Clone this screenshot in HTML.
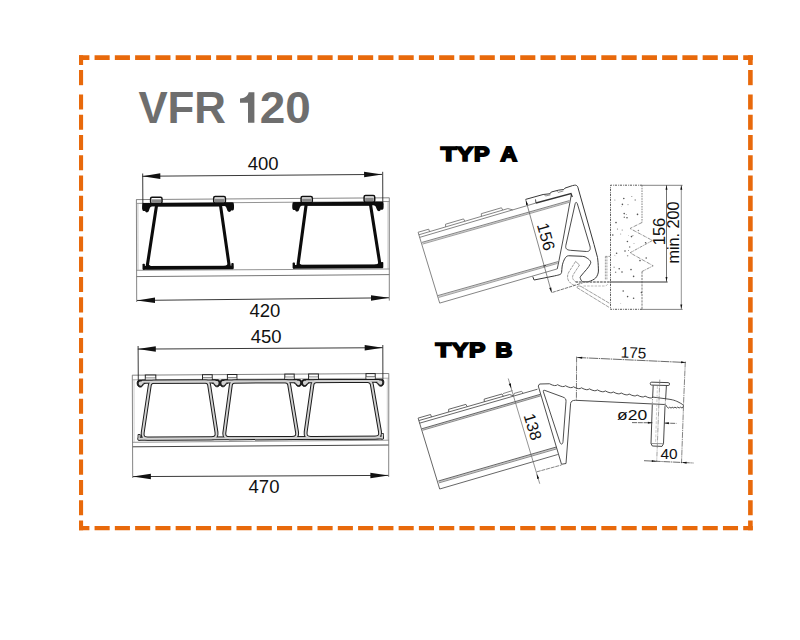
<!DOCTYPE html>
<html><head><meta charset="utf-8"><title>VFR 120</title>
<style>html,body{margin:0;padding:0;background:#fff;}svg{display:block;}</style>
</head><body>
<svg width="800" height="640" viewBox="0 0 800 640">
<rect x="0" y="0" width="800" height="640" fill="#ffffff"/>
<line x1="79" y1="57.6" x2="752.8" y2="57.6" stroke="#e8690b" stroke-width="4.7" stroke-dasharray="15.1 5.17" stroke-dashoffset="4.7"/>
<line x1="79" y1="528.2" x2="752.8" y2="528.2" stroke="#e8690b" stroke-width="4.2" stroke-dasharray="15.1 5.17" stroke-dashoffset="4.7"/>
<line x1="81.05" y1="94.4" x2="81.05" y2="530.3" stroke="#e8690b" stroke-width="4.1" stroke-dasharray="15.1 5.19"/>
<line x1="81.05" y1="55.25" x2="81.05" y2="65.0" stroke="#e8690b" stroke-width="4.1"/>
<line x1="81.05" y1="70.0" x2="81.05" y2="85.2" stroke="#e8690b" stroke-width="4.1"/>
<line x1="750.4" y1="94.4" x2="750.4" y2="530.3" stroke="#e8690b" stroke-width="4.6" stroke-dasharray="15.1 5.19"/>
<line x1="750.4" y1="55.25" x2="750.4" y2="65.0" stroke="#e8690b" stroke-width="4.6"/>
<line x1="750.4" y1="70.0" x2="750.4" y2="85.2" stroke="#e8690b" stroke-width="4.6"/>
<text x="138.40" y="122.70" font-size="43.8" font-family="Liberation Sans, sans-serif" font-weight="bold" text-anchor="start" fill="#6e6e6e" >VFR</text>
<path d="M248.0,92.3 L254.4,92.3 L254.4,122.7 L248.0,122.7 L248.0,102.7 L240.0,102.7 L240.0,98.5 C244.6,98.3 247.6,96.4 248.7,92.3 Z" stroke="none" stroke-width="0" fill="#6e6e6e" />
<text x="259.70" y="122.70" font-size="43.8" font-family="Liberation Sans, sans-serif" font-weight="bold" text-anchor="start" fill="#6e6e6e" textLength="51.0" lengthAdjust="spacingAndGlyphs" >20</text>
<line x1="136.20" y1="199.60" x2="389.40" y2="197.80" stroke="#777" stroke-width="0.9" />
<line x1="136.90" y1="203.40" x2="389.40" y2="201.50" stroke="#888" stroke-width="0.9" />
<line x1="136.50" y1="270.30" x2="389.40" y2="269.00" stroke="#888" stroke-width="0.9" />
<line x1="136.50" y1="276.60" x2="389.40" y2="274.60" stroke="#666" stroke-width="0.9" />
<line x1="136.40" y1="199.60" x2="136.70" y2="302.00" stroke="#777" stroke-width="0.9" />
<line x1="389.30" y1="197.80" x2="389.30" y2="300.60" stroke="#777" stroke-width="0.9" />
<line x1="137.90" y1="203.40" x2="138.00" y2="270.30" stroke="#aaa" stroke-width="0.7" />
<line x1="388.00" y1="201.50" x2="388.00" y2="269.00" stroke="#aaa" stroke-width="0.7" />
<line x1="142.30" y1="176.25" x2="382.10" y2="174.40" stroke="#222" stroke-width="0.9" />
<polygon points="142.30,176.25 160.32,178.91 160.28,173.31" fill="#111"/>
<polygon points="382.10,174.40 364.08,171.74 364.12,177.34" fill="#111"/>
<line x1="142.70" y1="173.50" x2="142.90" y2="209.00" stroke="#222" stroke-width="0.9" />
<line x1="382.70" y1="171.80" x2="382.80" y2="205.00" stroke="#222" stroke-width="0.9" />
<text x="263.10" y="169.50" font-size="18.5" font-family="Liberation Sans, sans-serif" font-weight="normal" text-anchor="middle" fill="#111" >400</text>
<line x1="137.00" y1="300.45" x2="389.00" y2="297.80" stroke="#222" stroke-width="0.9" />
<polygon points="137.00,300.45 155.03,303.06 154.97,297.46" fill="#111"/>
<polygon points="389.00,297.80 370.97,295.19 371.03,300.79" fill="#111"/>
<text x="264.90" y="316.90" font-size="18.5" font-family="Liberation Sans, sans-serif" font-weight="normal" text-anchor="middle" fill="#111" >420</text>
<rect x="150.60" y="197.30" width="11.40" height="6.20" rx="1.4" fill="#fff" stroke="#111" stroke-width="1.5"/>
<rect x="151.60" y="199.30" width="9.40" height="3.60" fill="#8a8a8a"/>
<rect x="213.70" y="196.60" width="11.70" height="6.40" rx="1.4" fill="#fff" stroke="#111" stroke-width="1.5"/>
<rect x="214.70" y="198.60" width="9.70" height="3.80" fill="#8a8a8a"/>
<line x1="143.50" y1="204.80" x2="232.70" y2="204.30" stroke="#0c0c0c" stroke-width="3.5" />
<line x1="143.00" y1="267.90" x2="233.20" y2="267.50" stroke="#0c0c0c" stroke-width="3.7" />
<rect x="142.50" y="263.70" width="2.4" height="6" rx="0.8" fill="#0c0c0c"/>
<rect x="231.30" y="263.10" width="2.4" height="6" rx="0.8" fill="#0c0c0c"/>
<path d="M142.70,203.10 L151.50,203.00 L151.50,206.60 C149.90,207.00 149.70,209.00 148.90,210.80 C148.10,212.80 145.50,213.00 145.10,210.80 C144.10,211.20 142.50,211.00 142.30,209.40 C142.00,207.80 142.10,204.80 142.70,203.10 Z" stroke="none" stroke-width="0" fill="#0c0c0c" />
<path d="M233.50,202.60 L224.70,202.50 L224.70,206.10 C226.30,206.50 226.50,208.50 227.30,210.30 C228.10,212.30 230.70,212.50 231.10,210.30 C232.10,210.70 233.70,210.50 233.90,208.90 C234.20,207.30 234.10,204.30 233.50,202.60 Z" stroke="none" stroke-width="0" fill="#0c0c0c" />
<path d="M156.60,205.00 L147.00,267.60 L229.40,267.20 L220.40,204.60 Z" stroke="#0c0c0c" stroke-width="3.1" fill="none" stroke-linejoin="round"/>
<path d="M147.60,261.60 Q148.20,266.20 153.00,266.40 L147.00,267.60 Z" stroke="none" stroke-width="0" fill="#0c0c0c" />
<path d="M228.80,261.20 Q228.20,265.80 223.40,266.00 L229.40,267.20 Z" stroke="none" stroke-width="0" fill="#0c0c0c" />
<rect x="301.10" y="196.50" width="11.20" height="6.10" rx="1.4" fill="#fff" stroke="#111" stroke-width="1.5"/>
<rect x="302.10" y="198.50" width="9.20" height="3.50" fill="#8a8a8a"/>
<rect x="364.10" y="195.60" width="10.60" height="6.30" rx="1.4" fill="#fff" stroke="#111" stroke-width="1.5"/>
<rect x="365.10" y="197.60" width="8.60" height="3.70" fill="#8a8a8a"/>
<line x1="293.60" y1="203.90" x2="382.30" y2="203.60" stroke="#0c0c0c" stroke-width="3.5" />
<line x1="293.10" y1="266.80" x2="382.80" y2="266.40" stroke="#0c0c0c" stroke-width="3.7" />
<rect x="292.60" y="262.60" width="2.4" height="6" rx="0.8" fill="#0c0c0c"/>
<rect x="380.90" y="262.00" width="2.4" height="6" rx="0.8" fill="#0c0c0c"/>
<path d="M292.80,202.20 L301.60,202.10 L301.60,205.70 C300.00,206.10 299.80,208.10 299.00,209.90 C298.20,211.90 295.60,212.10 295.20,209.90 C294.20,210.30 292.60,210.10 292.40,208.50 C292.10,206.90 292.20,203.90 292.80,202.20 Z" stroke="none" stroke-width="0" fill="#0c0c0c" />
<path d="M383.10,201.90 L374.30,201.80 L374.30,205.40 C375.90,205.80 376.10,207.80 376.90,209.60 C377.70,211.60 380.30,211.80 380.70,209.60 C381.70,210.00 383.30,209.80 383.50,208.20 C383.80,206.60 383.70,203.60 383.10,201.90 Z" stroke="none" stroke-width="0" fill="#0c0c0c" />
<path d="M306.20,204.20 L297.80,266.40 L380.20,266.00 L370.40,204.00 Z" stroke="#0c0c0c" stroke-width="3.1" fill="none" stroke-linejoin="round"/>
<path d="M298.40,260.40 Q299.00,265.00 303.80,265.20 L297.80,266.40 Z" stroke="none" stroke-width="0" fill="#0c0c0c" />
<path d="M379.60,260.00 Q379.00,264.60 374.20,264.80 L380.20,266.00 Z" stroke="none" stroke-width="0" fill="#0c0c0c" />
<line x1="132.20" y1="375.20" x2="388.80" y2="373.50" stroke="#777" stroke-width="0.9" />
<line x1="132.60" y1="379.80" x2="388.80" y2="378.20" stroke="#999" stroke-width="0.8" />
<line x1="132.40" y1="442.30" x2="388.80" y2="440.20" stroke="#888" stroke-width="0.9" />
<line x1="132.40" y1="446.80" x2="388.80" y2="445.00" stroke="#444" stroke-width="1.0" />
<line x1="132.30" y1="375.20" x2="132.70" y2="478.00" stroke="#777" stroke-width="0.9" />
<line x1="388.80" y1="373.50" x2="388.70" y2="477.00" stroke="#777" stroke-width="0.9" />
<line x1="134.00" y1="379.80" x2="134.10" y2="442.30" stroke="#bbb" stroke-width="0.7" />
<line x1="387.30" y1="378.20" x2="387.30" y2="440.20" stroke="#bbb" stroke-width="0.7" />
<line x1="137.80" y1="349.10" x2="382.70" y2="347.70" stroke="#222" stroke-width="0.9" />
<polygon points="137.80,349.10 155.82,351.80 155.78,346.20" fill="#111"/>
<polygon points="382.70,347.70 364.68,345.00 364.72,350.60" fill="#111"/>
<line x1="138.10" y1="346.00" x2="138.30" y2="384.00" stroke="#222" stroke-width="0.9" />
<line x1="382.80" y1="345.00" x2="382.90" y2="382.00" stroke="#222" stroke-width="0.9" />
<text x="266.10" y="342.80" font-size="18.5" font-family="Liberation Sans, sans-serif" font-weight="normal" text-anchor="middle" fill="#111" >450</text>
<line x1="132.90" y1="476.60" x2="388.40" y2="475.40" stroke="#222" stroke-width="0.9" />
<polygon points="132.90,476.60 150.91,479.32 150.89,473.72" fill="#111"/>
<polygon points="388.40,475.40 370.39,472.68 370.41,478.28" fill="#111"/>
<text x="264.00" y="493.30" font-size="18.5" font-family="Liberation Sans, sans-serif" font-weight="normal" text-anchor="middle" fill="#111" >470</text>
<rect x="145.30" y="375.00" width="10.50" height="5.40" fill="#fff" stroke="#222" stroke-width="1.0"/>
<line x1="145.30" y1="378.00" x2="155.80" y2="378.00" stroke="#444" stroke-width="0.8" />
<rect x="145.80" y="378.20" width="9.50" height="2.20" fill="#ddd"/>
<rect x="202.50" y="374.70" width="9.70" height="5.30" fill="#fff" stroke="#222" stroke-width="1.0"/>
<line x1="202.50" y1="377.70" x2="212.20" y2="377.70" stroke="#444" stroke-width="0.8" />
<rect x="203.00" y="377.90" width="8.70" height="2.10" fill="#ddd"/>
<rect x="227.40" y="374.50" width="9.50" height="5.40" fill="#fff" stroke="#222" stroke-width="1.0"/>
<line x1="227.40" y1="377.50" x2="236.90" y2="377.50" stroke="#444" stroke-width="0.8" />
<rect x="227.90" y="377.70" width="8.50" height="2.20" fill="#ddd"/>
<rect x="284.80" y="374.10" width="9.40" height="5.40" fill="#fff" stroke="#222" stroke-width="1.0"/>
<line x1="284.80" y1="377.10" x2="294.20" y2="377.10" stroke="#444" stroke-width="0.8" />
<rect x="285.30" y="377.30" width="8.40" height="2.20" fill="#ddd"/>
<rect x="308.60" y="374.00" width="9.80" height="5.30" fill="#fff" stroke="#222" stroke-width="1.0"/>
<line x1="308.60" y1="377.00" x2="318.40" y2="377.00" stroke="#444" stroke-width="0.8" />
<rect x="309.10" y="377.20" width="8.80" height="2.10" fill="#ddd"/>
<rect x="366.00" y="373.60" width="9.20" height="5.40" fill="#fff" stroke="#222" stroke-width="1.0"/>
<line x1="366.00" y1="376.60" x2="375.20" y2="376.60" stroke="#444" stroke-width="0.8" />
<rect x="366.50" y="376.80" width="8.20" height="2.20" fill="#ddd"/>
<path d="M142.50,381.79 L215.00,381.51" stroke="#1c1c1c" stroke-width="3.9" fill="none" stroke-linejoin="round" stroke-linecap="round"/>
<path d="M153.80,381.74 Q150.30,381.76 149.78,385.22 L142.69,432.75 Q141.80,438.68 147.80,438.66 L211.40,438.37 Q217.40,438.34 216.48,432.41 L209.14,385.00 Q208.60,381.54 205.10,381.55 Z" stroke="#1c1c1c" stroke-width="3.9" fill="none" stroke-linejoin="round"/>
<path d="M225.00,381.49 L296.50,381.21" stroke="#1c1c1c" stroke-width="3.9" fill="none" stroke-linejoin="round" stroke-linecap="round"/>
<path d="M234.80,381.44 Q231.30,381.46 230.83,384.93 L224.41,432.37 Q223.60,438.32 229.60,438.29 L292.00,438.01 Q298.00,437.98 297.02,432.06 L289.17,384.70 Q288.60,381.25 285.10,381.26 Z" stroke="#1c1c1c" stroke-width="3.9" fill="none" stroke-linejoin="round"/>
<path d="M306.70,381.19 L378.50,380.91" stroke="#1c1c1c" stroke-width="3.9" fill="none" stroke-linejoin="round" stroke-linecap="round"/>
<path d="M316.40,381.14 Q312.90,381.16 312.41,384.62 L305.65,432.01 Q304.80,437.95 310.80,437.92 L375.00,437.64 Q381.00,437.61 379.98,431.70 L371.80,384.39 Q371.20,380.94 367.70,380.96 Z" stroke="#1c1c1c" stroke-width="3.9" fill="none" stroke-linejoin="round"/>
<path d="M139.40,438.69 L382.00,437.60" stroke="#1c1c1c" stroke-width="3.9" fill="none" stroke-linejoin="round" stroke-linecap="round"/>
<path d="M145.10,380.05 L139.20,380.10 C137.20,380.50 136.60,383.40 137.70,385.60 C138.80,387.60 141.80,387.60 142.80,385.40 C143.30,384.40 143.80,383.70 145.10,383.55 Z" stroke="#1c1c1c" stroke-width="1.0" fill="#1c1c1c" />
<path d="M212.20,379.75 L218.10,379.80 C220.10,380.20 220.70,383.10 219.60,385.30 C218.50,387.30 215.50,387.30 214.50,385.10 C214.00,384.10 213.50,383.40 212.20,383.25 Z" stroke="#1c1c1c" stroke-width="1.0" fill="#1c1c1c" />
<path d="M227.80,379.75 L221.90,379.80 C219.90,380.20 219.30,383.10 220.40,385.30 C221.50,387.30 224.50,387.30 225.50,385.10 C226.00,384.10 226.50,383.40 227.80,383.25 Z" stroke="#1c1c1c" stroke-width="1.0" fill="#1c1c1c" />
<path d="M293.80,379.45 L299.70,379.50 C301.70,379.90 302.30,382.80 301.20,385.00 C300.10,387.00 297.10,387.00 296.10,384.80 C295.60,383.80 295.10,383.10 293.80,382.95 Z" stroke="#1c1c1c" stroke-width="1.0" fill="#1c1c1c" />
<path d="M309.40,379.45 L303.50,379.50 C301.50,379.90 300.90,382.80 302.00,385.00 C303.10,387.00 306.10,387.00 307.10,384.80 C307.60,383.80 308.10,383.10 309.40,382.95 Z" stroke="#1c1c1c" stroke-width="1.0" fill="#1c1c1c" />
<path d="M375.90,379.15 L381.80,379.20 C383.80,379.60 384.40,382.50 383.30,384.70 C382.20,386.70 379.20,386.70 378.20,384.50 C377.70,383.50 377.20,382.80 375.90,382.65 Z" stroke="#1c1c1c" stroke-width="1.0" fill="#1c1c1c" />
<rect x="137.6" y="434.10" width="3" height="6.4" rx="0.8" fill="#1c1c1c"/>
<rect x="380.8" y="433.00" width="3" height="6.4" rx="0.8" fill="#1c1c1c"/>
<path d="M142.50,381.79 L215.00,381.51" stroke="#d2d2d2" stroke-width="1.9" fill="none" stroke-linejoin="round" stroke-linecap="round"/>
<path d="M153.80,381.74 Q150.30,381.76 149.78,385.22 L142.69,432.75 Q141.80,438.68 147.80,438.66 L211.40,438.37 Q217.40,438.34 216.48,432.41 L209.14,385.00 Q208.60,381.54 205.10,381.55 Z" stroke="#d2d2d2" stroke-width="1.9" fill="none" stroke-linejoin="round"/>
<path d="M225.00,381.49 L296.50,381.21" stroke="#d2d2d2" stroke-width="1.9" fill="none" stroke-linejoin="round" stroke-linecap="round"/>
<path d="M234.80,381.44 Q231.30,381.46 230.83,384.93 L224.41,432.37 Q223.60,438.32 229.60,438.29 L292.00,438.01 Q298.00,437.98 297.02,432.06 L289.17,384.70 Q288.60,381.25 285.10,381.26 Z" stroke="#d2d2d2" stroke-width="1.9" fill="none" stroke-linejoin="round"/>
<path d="M306.70,381.19 L378.50,380.91" stroke="#d2d2d2" stroke-width="1.9" fill="none" stroke-linejoin="round" stroke-linecap="round"/>
<path d="M316.40,381.14 Q312.90,381.16 312.41,384.62 L305.65,432.01 Q304.80,437.95 310.80,437.92 L375.00,437.64 Q381.00,437.61 379.98,431.70 L371.80,384.39 Q371.20,380.94 367.70,380.96 Z" stroke="#d2d2d2" stroke-width="1.9" fill="none" stroke-linejoin="round"/>
<path d="M139.40,438.69 L382.00,437.60" stroke="#d2d2d2" stroke-width="1.9" fill="none" stroke-linejoin="round" stroke-linecap="round"/>
<path d="M145.10,380.05 L139.20,380.10 C137.20,380.50 136.60,383.40 137.70,385.60 C138.80,387.60 141.80,387.60 142.80,385.40 C143.30,384.40 143.80,383.70 145.10,383.55 Z" fill="#d2d2d2" stroke="none" transform="translate(0 0)" style="transform-box:fill-box;transform-origin:center;transform:scale(0.62)"/>
<path d="M212.20,379.75 L218.10,379.80 C220.10,380.20 220.70,383.10 219.60,385.30 C218.50,387.30 215.50,387.30 214.50,385.10 C214.00,384.10 213.50,383.40 212.20,383.25 Z" fill="#d2d2d2" stroke="none" transform="translate(0 0)" style="transform-box:fill-box;transform-origin:center;transform:scale(0.62)"/>
<path d="M227.80,379.75 L221.90,379.80 C219.90,380.20 219.30,383.10 220.40,385.30 C221.50,387.30 224.50,387.30 225.50,385.10 C226.00,384.10 226.50,383.40 227.80,383.25 Z" fill="#d2d2d2" stroke="none" transform="translate(0 0)" style="transform-box:fill-box;transform-origin:center;transform:scale(0.62)"/>
<path d="M293.80,379.45 L299.70,379.50 C301.70,379.90 302.30,382.80 301.20,385.00 C300.10,387.00 297.10,387.00 296.10,384.80 C295.60,383.80 295.10,383.10 293.80,382.95 Z" fill="#d2d2d2" stroke="none" transform="translate(0 0)" style="transform-box:fill-box;transform-origin:center;transform:scale(0.62)"/>
<path d="M309.40,379.45 L303.50,379.50 C301.50,379.90 300.90,382.80 302.00,385.00 C303.10,387.00 306.10,387.00 307.10,384.80 C307.60,383.80 308.10,383.10 309.40,382.95 Z" fill="#d2d2d2" stroke="none" transform="translate(0 0)" style="transform-box:fill-box;transform-origin:center;transform:scale(0.62)"/>
<path d="M375.90,379.15 L381.80,379.20 C383.80,379.60 384.40,382.50 383.30,384.70 C382.20,386.70 379.20,386.70 378.20,384.50 C377.70,383.50 377.20,382.80 375.90,382.65 Z" fill="#d2d2d2" stroke="none" transform="translate(0 0)" style="transform-box:fill-box;transform-origin:center;transform:scale(0.62)"/>
<rect x="138.4" y="434.90" width="1.4" height="4.8" fill="#d2d2d2"/>
<rect x="381.6" y="433.80" width="1.4" height="4.8" fill="#d2d2d2"/>
<!--DRAW2-->
<text x="0" y="0" font-size="100" font-family="Liberation Sans, sans-serif" font-weight="bold" fill="#000" stroke="#000" stroke-width="8.08" stroke-linejoin="miter" stroke-miterlimit="3" transform="translate(440.76 160.85) scale(0.2598 0.2108)">T</text>
<text x="0" y="0" font-size="100" font-family="Liberation Sans, sans-serif" font-weight="bold" fill="#000" stroke="#000" stroke-width="8.29" stroke-linejoin="miter" stroke-miterlimit="3" transform="translate(456.73 160.85) scale(0.2477 0.2108)">Y</text>
<text x="0" y="0" font-size="100" font-family="Liberation Sans, sans-serif" font-weight="bold" fill="#000" stroke="#000" stroke-width="8.56" stroke-linejoin="miter" stroke-miterlimit="3" transform="translate(473.89 160.85) scale(0.2333 0.2108)">P</text>
<text x="0" y="0" font-size="100" font-family="Liberation Sans, sans-serif" font-weight="bold" fill="#000" stroke="#000" stroke-width="8.63" stroke-linejoin="miter" stroke-miterlimit="3" transform="translate(500.38 160.85) scale(0.2295 0.2108)">A</text>
<text x="0" y="0" font-size="100" font-family="Liberation Sans, sans-serif" font-weight="bold" fill="#000" stroke="#000" stroke-width="8.16" stroke-linejoin="miter" stroke-miterlimit="3" transform="translate(435.56 357.25) scale(0.2547 0.2108)">T</text>
<text x="0" y="0" font-size="100" font-family="Liberation Sans, sans-serif" font-weight="bold" fill="#000" stroke="#000" stroke-width="8.26" stroke-linejoin="miter" stroke-miterlimit="3" transform="translate(451.82 357.25) scale(0.2493 0.2108)">Y</text>
<text x="0" y="0" font-size="100" font-family="Liberation Sans, sans-serif" font-weight="bold" fill="#000" stroke="#000" stroke-width="8.33" stroke-linejoin="miter" stroke-miterlimit="3" transform="translate(469.01 357.25) scale(0.2456 0.2108)">P</text>
<text x="0" y="0" font-size="100" font-family="Liberation Sans, sans-serif" font-weight="bold" fill="#000" stroke="#000" stroke-width="8.57" stroke-linejoin="miter" stroke-miterlimit="3" transform="translate(495.59 357.25) scale(0.2328 0.2108)">B</text>
<path d="M418.10,232.25 L439.70,303.10 L557.25,268.90" stroke="#666" stroke-width="0.8" fill="none" />
<line x1="418.80" y1="234.80" x2="507.87" y2="208.58" stroke="#666" stroke-width="0.8" />
<line x1="507.87" y1="208.58" x2="512.72" y2="209.88" stroke="#666" stroke-width="0.8" />
<line x1="419.60" y1="237.40" x2="536.00" y2="203.00" stroke="#666" stroke-width="0.8" />
<line x1="422.20" y1="243.25" x2="569.20" y2="201.50" stroke="#d0d0d0" stroke-width="1.2" />
<line x1="421.90" y1="242.40" x2="569.40" y2="200.60" stroke="#666" stroke-width="0.8" />
<line x1="422.50" y1="244.10" x2="569.00" y2="202.40" stroke="#888" stroke-width="0.8" />
<line x1="438.10" y1="296.55" x2="557.80" y2="262.50" stroke="#d0d0d0" stroke-width="1.2" />
<line x1="437.80" y1="295.60" x2="558.00" y2="261.60" stroke="#666" stroke-width="0.8" />
<line x1="438.40" y1="297.50" x2="557.60" y2="263.40" stroke="#888" stroke-width="0.8" />
<path d="M418.10,232.25 L428.70,229.20 L429.60,231.70" stroke="#666" stroke-width="0.8" fill="none" />
<path d="M445.66,226.89 L445.50,224.23 L463.54,218.92 L464.85,221.25" stroke="#666" stroke-width="0.8" fill="none" />
<path d="M481.44,216.36 L481.28,213.70 L501.43,207.77 L502.74,210.09" stroke="#666" stroke-width="0.8" fill="none" />
<path d="M532.75,276.6 L534.1,280.0 L554.6,275.9 C559.5,274.8 561.2,274.6 561.6,272.4 C562.0,268 562.0,265.5 563,262.75 C564.5,258.5 566.0,255.9 568.6,255.75 L580,256.2 C583.5,256.3 585.0,256.6 586.1,257.5 C589.5,259.5 591.5,261.5 590.5,263.6 C588.5,268 584.5,271.5 581.75,275 C580.0,277.0 579.8,277.5 580.4,278.5 C581.0,280.5 581.8,281.3 582.6,281.5 C586,282.2 588.5,281.8 590.5,281 C593.5,279.8 595.6,278.5 596.6,276.75 C598.2,274 598.6,272 598.4,268.9 C598.2,264 598.0,261 597.5,257.5 L594,244.4 L577.9,187.4 C577.3,185.6 576.2,185.0 574.6,185.2 L572.5,185.6 L565.0,188.1 L563.75,189.5 L558.75,190.1 L551.25,192.0 L550.0,193.75 L543.1,194.5 L525.6,199.4" stroke="#383838" stroke-width="1.0" fill="none" />
<path d="M571.25,195.00 L563.00,240.00 L559.00,260.50 L557.25,268.90" stroke="#383838" stroke-width="0.9" fill="none" />
<path d="M535.50,199.40 L536.00,203.00" stroke="#383838" stroke-width="0.9" fill="none" />
<path d="M536.00,203.00 L571.00,193.60 L572.30,196.90" stroke="#333" stroke-width="1.3" fill="none" />
<path d="M544.30,194.60 L545.50,196.00 L550.50,194.80" stroke="#666" stroke-width="0.7" fill="none" />
<path d="M557.00,191.20 L558.20,192.40 L563.40,191.00" stroke="#666" stroke-width="0.7" fill="none" />
<path d="M575.2,203.6 C575.6,202.0 576.6,201.9 577.3,203.6 L589.9,246.0 C590.9,249.6 589.6,251.7 586.4,251.5 L570.4,250.3 C566.8,250.0 565.2,248.6 565.8,245.6 Z" stroke="#383838" stroke-width="0.9" fill="none" />
<path d="M575.6,261.4 L568.9,272.0 C566.6,276.0 567.5,280.0 569.5,282 C571.5,284.2 573.5,285.2 575.6,285.5" stroke="#888" stroke-width="0.8" fill="none" stroke-dasharray="3 0.8"/>
<path d="M579.5,265 L573.4,274.4 C571.9,277.0 572.6,279.0 573.9,280.25 C574.8,281.2 575.6,281.7 576.5,282" stroke="#888" stroke-width="0.8" fill="none" stroke-dasharray="3 0.8"/>
<line x1="575.60" y1="261.40" x2="579.50" y2="265.00" stroke="#888" stroke-width="0.8" />
<line x1="577.00" y1="287.60" x2="609.50" y2="307.60" stroke="#888" stroke-width="0.8" stroke-dasharray="4 0.8"/>
<line x1="581.00" y1="286.40" x2="610.00" y2="303.60" stroke="#888" stroke-width="0.8" stroke-dasharray="4 0.8"/>
<path d="M577.0,287.6 C576.4,286.4 578.5,285.4 581.0,286.4" stroke="#888" stroke-width="0.8" fill="none" />
<line x1="575.60" y1="282.00" x2="610.00" y2="282.00" stroke="#777" stroke-width="1.5" stroke-dasharray="2.6 0.9"/>
<line x1="610.00" y1="282.00" x2="667.60" y2="282.00" stroke="#777" stroke-width="1.7" />
<path d="M583.5,286.0 L604.0,286.0 Q607.4,285.8 608.2,283.4" stroke="#aaa" stroke-width="0.8" fill="none" stroke-dasharray="2.5 1.2"/>
<line x1="605.40" y1="256.40" x2="605.40" y2="279.60" stroke="#888" stroke-width="0.8" stroke-dasharray="2 1"/>
<line x1="606.90" y1="256.40" x2="606.90" y2="279.60" stroke="#888" stroke-width="0.8" stroke-dasharray="2 1"/>
<line x1="605.40" y1="256.40" x2="610.20" y2="256.40" stroke="#888" stroke-width="0.8" stroke-dasharray="2 1"/>
<path d="M642.00,185.20 L610.50,185.20 L610.50,309.30 L642.00,309.30" stroke="#444" stroke-width="0.9" fill="none" stroke-dasharray="2.2 1.0 0.8 1.0"/>
<line x1="642.00" y1="185.20" x2="642.00" y2="222.50" stroke="#666" stroke-width="0.8" stroke-dasharray="1.6 1.0"/>
<line x1="642.00" y1="271.50" x2="642.00" y2="309.30" stroke="#555" stroke-width="0.8" stroke-dasharray="2.2 1.0"/>
<path d="M642.00,222.50 L630.00,228.50 L652.50,240.50 L630.00,252.80 L653.20,265.80 L642.00,271.50" stroke="#777" stroke-width="0.8" fill="none" stroke-dasharray="3.2 0.8 0.8 0.8"/>
<circle cx="621.7" cy="206.6" r="0.35" fill="#888"/>
<circle cx="635.2" cy="200.0" r="0.75" fill="#888"/>
<circle cx="637.6" cy="214.1" r="0.35" fill="#777"/>
<circle cx="624.3" cy="217.2" r="0.75" fill="#777"/>
<circle cx="614.6" cy="255.2" r="0.4" fill="#888"/>
<circle cx="628.6" cy="235.4" r="0.4" fill="#888"/>
<circle cx="628.0" cy="204.6" r="0.6" fill="#999"/>
<circle cx="627.6" cy="255.8" r="0.75" fill="#999"/>
<circle cx="615.8" cy="255.8" r="0.4" fill="#aaa"/>
<circle cx="615.6" cy="272.3" r="0.75" fill="#888"/>
<circle cx="629.7" cy="247.1" r="0.75" fill="#777"/>
<circle cx="634.0" cy="243.5" r="0.6" fill="#aaa"/>
<circle cx="621.1" cy="281.9" r="0.4" fill="#888"/>
<circle cx="628.5" cy="250.4" r="0.5" fill="#777"/>
<circle cx="620.8" cy="303.7" r="0.35" fill="#777"/>
<circle cx="617.5" cy="229.0" r="0.6" fill="#777"/>
<circle cx="614.1" cy="267.2" r="0.75" fill="#aaa"/>
<circle cx="622.2" cy="230.0" r="0.6" fill="#777"/>
<circle cx="614.9" cy="200.0" r="0.5" fill="#777"/>
<circle cx="631.8" cy="196.6" r="0.5" fill="#777"/>
<circle cx="620.7" cy="234.1" r="0.5" fill="#888"/>
<circle cx="638.4" cy="230.6" r="0.75" fill="#888"/>
<circle cx="626.3" cy="214.5" r="0.5" fill="#999"/>
<circle cx="632.9" cy="235.6" r="0.6" fill="#888"/>
<circle cx="623.8" cy="198.5" r="0.8" fill="#555"/>
<circle cx="622.4" cy="204.4" r="0.8" fill="#555"/>
<circle cx="624.2" cy="213.6" r="0.8" fill="#555"/>
<circle cx="627.0" cy="217.8" r="0.8" fill="#555"/>
<circle cx="616.0" cy="222.6" r="0.8" fill="#555"/>
<circle cx="637.5" cy="214.4" r="0.8" fill="#555"/>
<circle cx="612.8" cy="235.0" r="0.8" fill="#555"/>
<circle cx="631.5" cy="236.6" r="0.8" fill="#555"/>
<circle cx="627.4" cy="241.5" r="0.8" fill="#555"/>
<circle cx="625.0" cy="251.0" r="0.8" fill="#555"/>
<circle cx="616.6" cy="253.2" r="0.8" fill="#555"/>
<circle cx="640.0" cy="260.6" r="0.8" fill="#555"/>
<circle cx="619.2" cy="268.8" r="0.8" fill="#555"/>
<circle cx="631.0" cy="269.6" r="0.8" fill="#555"/>
<circle cx="622.0" cy="272.0" r="0.8" fill="#555"/>
<circle cx="633.6" cy="276.4" r="0.8" fill="#555"/>
<circle cx="623.2" cy="291.0" r="0.8" fill="#555"/>
<circle cx="627.6" cy="296.6" r="0.8" fill="#555"/>
<circle cx="633.6" cy="298.2" r="0.8" fill="#555"/>
<circle cx="641.4" cy="292.6" r="0.8" fill="#555"/>
<circle cx="645.6" cy="242.8" r="0.8" fill="#555"/>
<circle cx="646.2" cy="258.0" r="0.8" fill="#555"/>
<line x1="525.60" y1="199.40" x2="551.60" y2="292.50" stroke="#555" stroke-width="0.7" />
<polygon points="525.90,200.40 526.05,205.03 528.17,204.44" fill="#111"/>
<polygon points="551.60,292.50 551.31,287.39 549.20,287.98" fill="#111"/>
<line x1="543.30" y1="266.20" x2="546.00" y2="265.40" stroke="#333" stroke-width="0.8" />
<line x1="552.40" y1="292.40" x2="582.60" y2="282.90" stroke="#555" stroke-width="0.8" stroke-dasharray="3.5 0.8"/>
<text x="540.40" y="238.20" font-size="16.6" font-family="Liberation Sans, sans-serif" font-weight="normal" text-anchor="middle" fill="#111" transform="rotate(74.40 540.40 238.20)" >156</text>
<line x1="642.00" y1="185.30" x2="682.60" y2="185.30" stroke="#666" stroke-width="0.8" />
<line x1="642.00" y1="309.40" x2="682.60" y2="309.40" stroke="#666" stroke-width="0.8" />
<line x1="666.50" y1="185.20" x2="666.50" y2="281.80" stroke="#444" stroke-width="0.75" />
<line x1="681.30" y1="185.20" x2="681.30" y2="309.20" stroke="#666" stroke-width="0.7" />
<polygon points="666.50,185.30 665.50,189.80 667.50,189.80" fill="#111"/>
<polygon points="666.50,281.60 667.50,277.10 665.50,277.10" fill="#111"/>
<polygon points="681.30,185.30 680.30,189.80 682.30,189.80" fill="#111"/>
<polygon points="681.30,309.10 682.30,304.60 680.30,304.60" fill="#111"/>
<text x="664.60" y="231.50" font-size="16.6" font-family="Liberation Sans, sans-serif" font-weight="normal" text-anchor="middle" fill="#111" transform="rotate(-90.00 664.60 231.50)" >156</text>
<text x="678.70" y="232.40" font-size="16.2" font-family="Liberation Sans, sans-serif" font-weight="normal" text-anchor="middle" fill="#111" transform="rotate(-90.00 678.70 232.40)" >min. 200</text>
<!--TYPA-->
<path d="M418.10,418.10 L439.70,489.00 L557.75,454.50" stroke="#4a4a4a" stroke-width="0.85" fill="none" />
<line x1="418.75" y1="420.60" x2="509.59" y2="394.51" stroke="#4a4a4a" stroke-width="0.85" />
<line x1="509.59" y1="394.51" x2="513.90" y2="396.00" stroke="#4a4a4a" stroke-width="0.85" />
<line x1="419.50" y1="423.20" x2="537.50" y2="389.20" stroke="#4a4a4a" stroke-width="0.85" />
<line x1="422.20" y1="429.50" x2="540.60" y2="395.10" stroke="#c8c8c8" stroke-width="1.2" />
<line x1="421.90" y1="428.75" x2="540.50" y2="394.25" stroke="#4a4a4a" stroke-width="0.85" />
<line x1="422.50" y1="430.30" x2="540.80" y2="395.90" stroke="#777" stroke-width="0.85" />
<line x1="438.60" y1="481.95" x2="556.40" y2="447.95" stroke="#c8c8c8" stroke-width="1.2" />
<line x1="438.40" y1="481.00" x2="556.25" y2="447.00" stroke="#4a4a4a" stroke-width="0.85" />
<line x1="438.90" y1="482.90" x2="556.60" y2="448.90" stroke="#777" stroke-width="0.85" />
<path d="M418.10,418.10 L430.60,414.50 L431.50,417.10" stroke="#4a4a4a" stroke-width="0.85" fill="none" />
<path d="M448.74,411.99 L448.60,409.32 L465.90,404.36 L467.19,406.69" stroke="#4a4a4a" stroke-width="0.85" fill="none" />
<path d="M484.30,401.78 L484.16,399.11 L502.04,393.98 L503.33,396.31" stroke="#4a4a4a" stroke-width="0.85" fill="none" />
<path d="M513.6,395.3 L514.2,393.4 L521.6,391.3 L523.0,393.0" stroke="#4a4a4a" stroke-width="0.7" fill="none" />
<path d="M561.5,464.25 L538.25,386.0 L539.6,384.0 L549.5,383.75 Q555.47,386.93 557.46,384.68 Q563.43,387.96 565.42,385.72 Q571.39,389.00 573.38,386.75 Q579.36,390.03 581.35,387.79 Q587.32,391.06 589.31,388.82 Q595.28,392.10 597.27,389.86 Q603.24,393.13 605.23,390.89 Q611.20,394.17 613.19,391.93 Q619.16,395.20 621.15,392.96 Q627.12,396.24 629.12,394.00 Q635.09,397.27 637.08,395.03 Q643.05,398.31 645.04,396.07 Q651.01,399.34 653.00,397.10 L666.7,398.9 C670,399.3 672.5,399.8 673.75,400.2 C676,400.9 677.8,401.7 679.0,402.4 C681.6,403.8 683.6,404.8 683.5,406.0 C683.4,407.0 682.8,407.6 682.0,408.0 Q679.96,406.27 679.28,407.94 Q677.24,406.31 676.56,407.98 Q674.52,406.35 673.84,408.02 Q671.80,406.39 671.12,408.06 Q669.08,406.43 668.40,408.10 C667.2,407.6 666.6,406.4 665.9,405.0 L664.6,404.5 L575.5,400.3 C572.6,400.3 570.9,401.2 570.6,403.4 L566.0,463.5 Z" stroke="#3a3a3a" stroke-width="0.9" fill="none" />
<path d="M543.4,391.8 C543.0,390.4 543.6,390.0 544.8,390.4 L562.8,397.0 C565.4,398.0 566.2,399.2 566.0,401.6 L563.0,441.5 C562.8,444.6 560.9,445.0 559.9,442.2 Z" stroke="#3a3a3a" stroke-width="0.9" fill="none" />
<rect x="650.3" y="382.4" width="19.2" height="2.9" rx="1.3" fill="#fff" stroke="#333" stroke-width="0.9" transform="rotate(1.5 660 384)"/>
<path d="M653.2,385.4 L652.6,398.0 M652.3,404.6 L651.0,443.5 L652.3,446.0 L662.0,446.4 L663.5,443.7 L665.0,406.2 M665.6,399.6 L666.4,385.8" stroke="#333" stroke-width="0.9" fill="none" />
<line x1="651.00" y1="443.50" x2="663.50" y2="443.70" stroke="#666" stroke-width="0.7" />
<line x1="652.50" y1="399.00" x2="652.30" y2="404.60" stroke="#777" stroke-width="0.7" stroke-dasharray="1.5 1"/>
<line x1="665.50" y1="400.00" x2="665.00" y2="406.20" stroke="#777" stroke-width="0.7" stroke-dasharray="1.5 1"/>
<line x1="659.80" y1="379.60" x2="656.70" y2="461.80" stroke="#777" stroke-width="0.7" stroke-dasharray="5 1 1 1"/>
<line x1="657.40" y1="386.00" x2="655.60" y2="443.00" stroke="#aaa" stroke-width="0.6" stroke-dasharray="3 1.4"/>
<line x1="577.20" y1="357.50" x2="686.00" y2="362.50" stroke="#444" stroke-width="0.8" stroke-dasharray="9 0.7 1.5 0.7"/>
<polygon points="577.20,357.50 582.14,358.83 582.24,356.63" fill="#111"/>
<polygon points="686.00,362.50 681.06,361.17 680.96,363.37" fill="#111"/>
<line x1="576.60" y1="356.60" x2="576.40" y2="399.60" stroke="#555" stroke-width="0.8" stroke-dasharray="6 0.8 1.2 0.8"/>
<path d="M685.3,361.6 L683.7,400.0 L681.5,463.2" stroke="#666" stroke-width="0.8" fill="none" stroke-dasharray="6 0.8 1.2 0.8"/>
<text x="633.30" y="358.00" font-size="15.4" font-family="Liberation Sans, sans-serif" font-weight="normal" text-anchor="middle" fill="#111" transform="rotate(2.60 633.30 358.00)" >175</text>
<text x="617.0" y="420.4" font-size="14.4" font-family="Liberation Sans, sans-serif" fill="#111" textLength="30.2" lengthAdjust="spacingAndGlyphs">ø20</text>
<line x1="632.00" y1="422.60" x2="652.40" y2="422.80" stroke="#444" stroke-width="0.8" stroke-dasharray="5 0.8"/>
<line x1="664.40" y1="423.10" x2="676.40" y2="423.40" stroke="#444" stroke-width="0.8" stroke-dasharray="5 0.8"/>
<polygon points="652.40,422.80 647.91,421.75 647.89,423.75" fill="#111"/>
<polygon points="664.40,423.10 668.89,424.15 668.91,422.15" fill="#111"/>
<line x1="644.00" y1="460.70" x2="693.50" y2="463.00" stroke="#444" stroke-width="0.8" stroke-dasharray="7 0.7 1.3 0.7"/>
<polygon points="656.60,461.30 651.65,460.07 651.56,462.07" fill="#111"/>
<polygon points="681.60,462.40 686.55,463.63 686.64,461.63" fill="#111"/>
<text x="669.10" y="458.90" font-size="15.4" font-family="Liberation Sans, sans-serif" font-weight="normal" text-anchor="middle" fill="#111" >40</text>
<line x1="508.25" y1="378.50" x2="539.75" y2="483.75" stroke="#666" stroke-width="0.7" />
<polygon points="511.25,388.40 510.87,383.29 508.76,383.93" fill="#111"/>
<polygon points="536.75,473.90 537.13,479.01 539.24,478.37" fill="#111"/>
<line x1="503.00" y1="393.60" x2="512.40" y2="390.60" stroke="#555" stroke-width="0.7" />
<line x1="536.80" y1="471.80" x2="561.50" y2="465.00" stroke="#666" stroke-width="0.8" stroke-dasharray="4 0.8"/>
<text x="527.40" y="428.40" font-size="16.2" font-family="Liberation Sans, sans-serif" font-weight="normal" text-anchor="middle" fill="#111" transform="rotate(73.30 527.40 428.40)" >138</text>
<!--TYPB-->
</svg>
</body></html>
